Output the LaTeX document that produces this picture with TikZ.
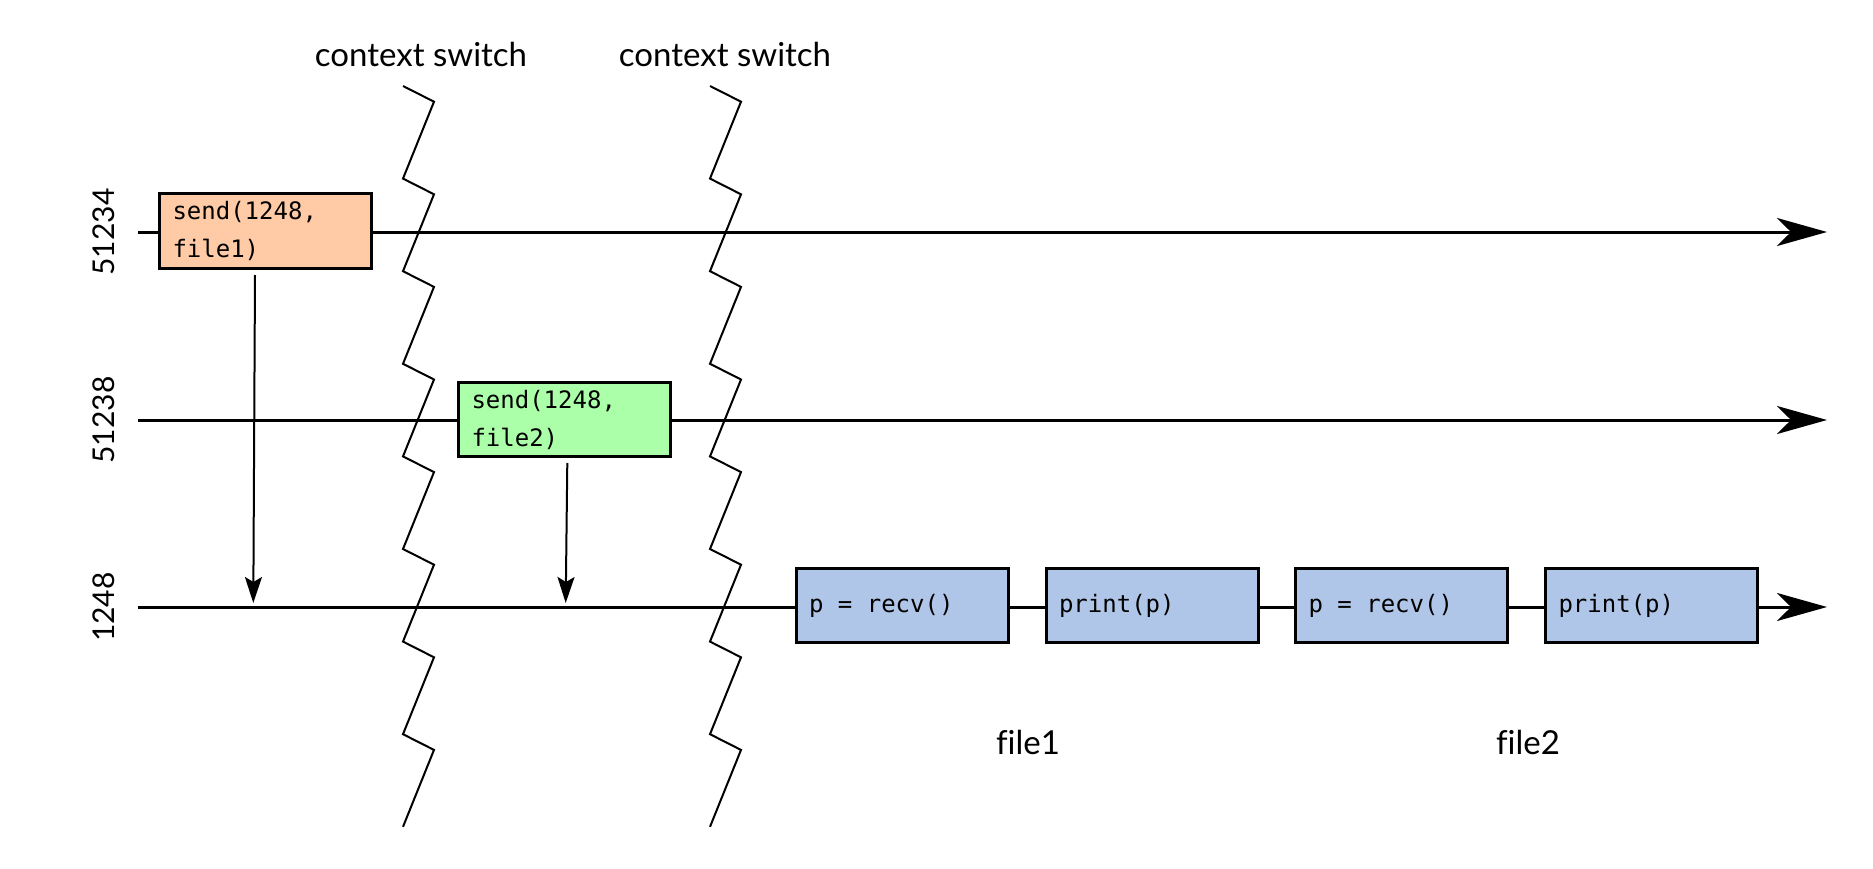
\documentclass[tikz,border=0pt]{standalone}
\usepackage{fontspec}
\setmainfont{Lato}[Ligatures=NoCommon]
\newfontfamily\codefont{DejaVu Sans Mono}[Ligatures=NoCommon]
\usetikzlibrary{arrows.meta}
\definecolor{peach}{HTML}{FFCBA6}
\definecolor{mint}{HTML}{AAFFA8}
\definecolor{steel}{HTML}{B0C6E8}
\newcommand{\monosp}{\hphantom{x}}
\begin{document}
\begin{tikzpicture}[x=1pt,y=-1pt,
  codebox/.style={draw=black, line width=3pt, minimum height=74pt, text width=186pt,
    inner xsep=13pt, inner ysep=0pt, align=left, anchor=center,
    font=\codefont\fontsize{24}{38}\selectfont},
  timeline/.style={line width=3pt, -{Stealth[length=50pt,width=28pt,inset=14pt]}},
  zig/.style={line width=2pt, line join=miter},
  drop/.style={line width=2pt, -{Stealth[length=26pt,width=17pt,inset=5pt]}},
  caption/.style={font=\fontsize{33}{40}\selectfont, anchor=base},
  pid/.style={font=\fontsize{30}{36}\selectfont, rotate=90, anchor=center}
]
\useasboundingbox (0,0) rectangle (1873,869);

% zigzag context-switch lines
\draw[zig] (403,86) \foreach \k in {0,...,7} { -- (434,{101.7+92.6*\k}) -- (403,{178.6+92.6*\k}) };
\draw[zig] (710,86) \foreach \k in {0,...,7} { -- (741,{101.7+92.6*\k}) -- (710,{178.6+92.6*\k}) };

% timelines
\coordinate (t1s) at (138,232);
\coordinate (t1e) at (1827,232);
\coordinate (t2s) at (138,420);
\coordinate (t2e) at (1827,420);
\coordinate (t3s) at (138,607);
\coordinate (t3e) at (1827,607);
\draw[timeline] (t1s) -- (t1e);
\draw[timeline] (t2s) -- (t2e);
\draw[timeline] (t3s) -- (t3e);

% process labels
\node[pid] (p1) at (103.5,232) {51234};
\node[pid] (p2) at (103.5,420) {51238};
\node[pid] (p3) at (103.5,607) {1248};

% boxes
\node[codebox, fill=peach] (send1) at (265.5,231) {send(1248,\\file1)};
\node[codebox, fill=mint] (send2) at (564.5,419.5) {send(1248,\\file2)};
\node[codebox, fill=steel] (recv1) at (902,605.5) {p\monosp=\monosp recv()};
\node[codebox, fill=steel] (print1) at (1152,605.5) {print(p)};
\node[codebox, fill=steel] (recv2) at (1401.5,605.5) {p\monosp=\monosp recv()};
\node[codebox, fill=steel] (print2) at (1651.5,605.5) {print(p)};

% message arrows
\coordinate (m1s) at (255,275);
\coordinate (m1e) at (253.3,603);
\coordinate (m2s) at (567.3,463);
\coordinate (m2e) at (565.7,603);
\draw[drop] (m1s) -- (m1e);
\draw[drop] (m2s) -- (m2e);

% captions
\node[caption] (cs1) at (421,67) {context switch};
\node[caption] (cs2) at (725,67) {context switch};
\node[caption] (f1) at (1028,754) {file1};
\node[caption] (f2) at (1528,754) {file2};
\end{tikzpicture}
\end{document}
